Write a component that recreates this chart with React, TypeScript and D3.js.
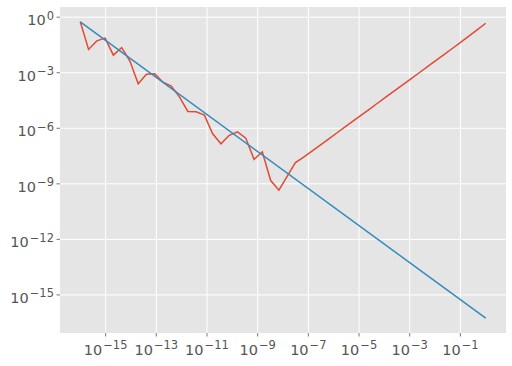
import React from "react";
import * as d3 from "d3";

// step sizes h: 50 points, log-spaced between 1e-16 and 1 (exponents listed)
const hExp: number[] = [
  -16.0, -15.673, -15.347, -15.02, -14.694, -14.367, -14.041, -13.714, -13.388, -13.061,
  -12.735, -12.408, -12.082, -11.755, -11.429, -11.102, -10.776, -10.449, -10.122, -9.796,
  -9.469, -9.143, -8.816, -8.49, -8.163, -7.837, -7.51, -7.184, -6.857, -6.531,
  -6.204, -5.878, -5.551, -5.224, -4.898, -4.571, -4.245, -3.918, -3.592, -3.265,
  -2.939, -2.612, -2.286, -1.959, -1.633, -1.306, -0.98, -0.653, -0.327, 0.0,
];

// measured error (log10) – red series
const errExp: number[] = [
  -0.25, -1.74, -1.28, -1.13, -2.05, -1.64, -2.37, -3.6, -3.08, -3.06,
  -3.51, -3.72, -4.32, -5.09, -5.11, -5.29, -6.3, -6.84, -6.38, -6.19,
  -6.53, -7.68, -7.27, -8.81, -9.34, -8.6, -7.85, -7.56, -7.233, -6.907,
  -6.58, -6.254, -5.927, -5.6, -5.274, -4.947, -4.621, -4.294, -3.968, -3.641,
  -3.315, -2.988, -2.662, -2.334, -2.007, -1.678, -1.346, -1.011, -0.669, -0.326,
];

// estimated rounding error (log10) – blue series, straight line
const estH: number[] = [-16.0, 0.0];
const estExp: number[] = [-0.256, -16.256];

const xTicks: number[] = [-15, -13, -11, -9, -7, -5, -3, -1];
const yTicks: number[] = [0, -3, -6, -9, -12, -15];

const W = 512;
const H = 366;
const L = 60, R = 506, T = 7, B = 333;

export default function App() {
  const red = hExp.map((e, i) => [Math.pow(10, e), Math.pow(10, errExp[i])] as [number, number]);
  const blue = estH.map((e, i) => [Math.pow(10, e), Math.pow(10, estExp[i])] as [number, number]);

  const all = [...red, ...blue];
  const lx = all.map((d) => Math.log10(d[0]));
  const ly = all.map((d) => Math.log10(d[1]));
  const x0 = d3.min(lx)!, x1 = d3.max(lx)!;
  const y0 = d3.min(ly)!, y1 = d3.max(ly)!;
  const mx = (x1 - x0) * 0.05, my = (y1 - y0) * 0.05;

  const x = d3.scaleLog().domain([Math.pow(10, x0 - mx), Math.pow(10, x1 + mx)]).range([L, R]);
  const y = d3.scaleLog().domain([Math.pow(10, y0 - my), Math.pow(10, y1 + my)]).range([B, T]);

  const line = d3.line<[number, number]>().x((d) => x(d[0])).y((d) => y(d[1]));

  const font = "DejaVu Sans, sans-serif";
  const minus = "\u2212";
  const exp = (e: number) => (e < 0 ? minus + Math.abs(e) : String(e));

  return (
    <svg width={W} height={H} style={{ position: "absolute", left: 0, top: 0 }}>
      <rect x={0} y={0} width={W} height={H} fill="#ffffff" />
      <rect x={L} y={T} width={R - L} height={B - T} fill="#E5E5E5" />
      {xTicks.map((t) => (
        <line key={"gx" + t} x1={x(Math.pow(10, t))} x2={x(Math.pow(10, t))} y1={T} y2={B} stroke="#ffffff" strokeWidth={1} />
      ))}
      {yTicks.map((t) => (
        <line key={"gy" + t} x1={L} x2={R} y1={y(Math.pow(10, t))} y2={y(Math.pow(10, t))} stroke="#ffffff" strokeWidth={1} />
      ))}
      <path d={line(red)!} fill="none" stroke="#E24A33" strokeWidth={1.5} />
      <path d={line(blue)!} fill="none" stroke="#348ABD" strokeWidth={1.5} />
      {xTicks.map((t) => {
        const px = x(Math.pow(10, t));
        return (
          <g key={"tx" + t}>
            <line x1={px} x2={px} y1={B} y2={B + 3.5} stroke="#555555" strokeWidth={0.8} />
            <text x={px} y={354.5} textAnchor="middle" fontFamily={font} fontSize={14.5} fill="#555555">
              <tspan>10</tspan>
              <tspan fontSize={11.5} dy={-5.5} dx={1}>{exp(t)}</tspan>
            </text>
          </g>
        );
      })}
      {yTicks.map((t) => {
        const py = y(Math.pow(10, t));
        return (
          <g key={"ty" + t}>
            <line x1={L - 3.5} x2={L} y1={py} y2={py} stroke="#555555" strokeWidth={0.8} />
            <text x={54} y={py + 8} textAnchor="end" fontFamily={font} fontSize={14.5} fill="#555555">
              <tspan>10</tspan>
              <tspan fontSize={11.5} dy={-5.5} dx={1}>{exp(t)}</tspan>
            </text>
          </g>
        );
      })}
    </svg>
  );
}
